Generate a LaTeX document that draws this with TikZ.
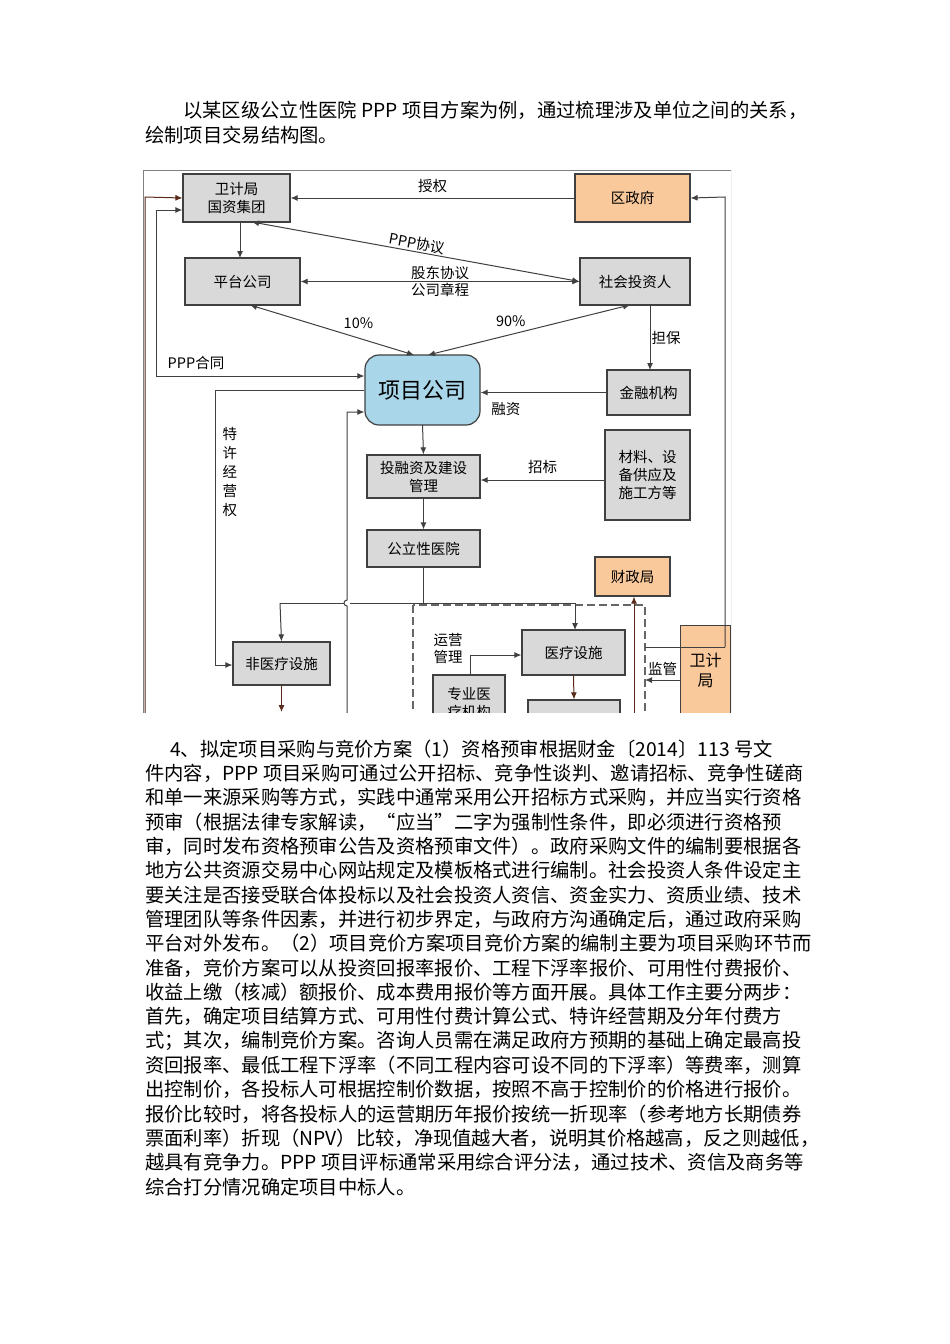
\documentclass[tikz,border=0pt]{standalone}
\usepackage{fontspec}
\setmainfont{Noto Sans CJK SC}
\usetikzlibrary{arrows.meta}
\definecolor{bx}{HTML}{D9D9D9}
\definecolor{org}{HTML}{F9C99B}
\definecolor{blu}{HTML}{A9D6E8}
\definecolor{brn}{HTML}{5A2A1A}
\tikzset{
 txt/.style={anchor=west,inner sep=0pt,font=\fontsize{19.3}{22}\selectfont},
 bx/.style={draw=black!75,line width=1.2pt,fill=bx,inner sep=0pt,font=\fontsize{14.5}{18}\selectfont,align=center},
 ob/.style={bx,fill=org},
 lb/.style={inner sep=1pt,font=\fontsize{14.5}{17}\selectfont,align=center},
 ln/.style={draw=black!75,line width=1pt},
 ar/.style={ln,-{Latex[length=7pt,width=6pt]}},
 dar/.style={ln,{Latex[length=7pt,width=6pt]}-{Latex[length=7pt,width=6pt]}},
}
\begin{document}
\begin{tikzpicture}[x=1pt,y=-1pt]
\useasboundingbox (0,0) rectangle (950,1344);
\fill[white] (0,0) rectangle (950,1344);
\node[txt] (p1) at (183,110) {以某区级公立性医院 PPP 项目方案为例，通过梳理涉及单位之间的关系，};
\node[txt] (p2) at (145,135) {绘制项目交易结构图。};
\begin{scope}
\clip (143,170) rectangle (731,712);
\draw[black!50,line width=0.8pt] (143,170) rectangle (731,760);
\node[bx,minimum width=107,minimum height=48] (wj) at (236.5,198) {卫计局\\国资集团};
\node[ob,minimum width=115,minimum height=48] (qzf) at (632.5,198) {区政府};
\node[bx,minimum width=115,minimum height=47] (pt) at (242.5,281.5) {平台公司};
\node[bx,minimum width=110,minimum height=47] (sh) at (635,281.5) {社会投资人};
\node[draw=black!75,line width=1.2pt,fill=blu,rounded corners=14pt,minimum width=115,minimum height=70,font=\fontsize{22}{24}\selectfont] (xm) at (422.5,390) {项目公司};
\node[bx,minimum width=83,minimum height=45] (jr) at (648.5,392.5) {金融机构};
\node[bx,minimum width=113,minimum height=43] (tr) at (423.5,476.5) {投融资及建设\\管理};
\node[bx,minimum width=85,minimum height=90] (cl) at (647.5,475) {材料、设\\备供应及\\施工方等};
\node[bx,minimum width=113,minimum height=37] (gl) at (423.5,548.5) {公立性医院};
\node[ob,minimum width=75,minimum height=39] (cz) at (632.5,576.5) {财政局};
\draw[dashed,black!60,line width=1.5pt,dash pattern=on 8pt off 4pt] (413,605) rectangle (645,740);
\node[bx,minimum width=103,minimum height=45] (yl) at (573.5,652.5) {医疗设施};
\node[bx,minimum width=97,minimum height=43] (fy) at (281.5,663.5) {非医疗设施};
\node[bx,minimum width=72,minimum height=55] (zy) at (469,702.5) {专业医\\疗机构};
\node[bx,minimum width=92,minimum height=40] (yb) at (574,720) {};
\node[ob,minimum width=50,minimum height=90,anchor=north west,font=\fontsize{16}{20}\selectfont] (wj2) at (680,625) {卫计\\局};
\coordinate (dbR) at (645,647);
\coordinate (dbR2) at (645,680);
\draw[ar] (qzf.west) -- node[lb,above=4pt] {授权} (wj.east);
\draw[ar] (725,647) -- (725,197) -- (qzf.east);
\draw[ln] (dbR) -- (725,647);
\draw[ln,-{Latex[length=7pt,width=6pt]},draw=brn] (145,760) -- (145,197) -- (wj.west);
\draw[ln,{Latex[length=7pt,width=6pt]}-{Latex[length=7pt,width=6pt]}] (wj.west|-0,210) -- (156,210) -- (156,376) -- (xm.west|-0,376);
\node[lb] (ppph) at (196,363) {PPP合同};
\draw[ar] (240,222) -- (240,258);
\draw[dar] (252,222) -- node[lb,above,sloped] {PPP协议} (sh.west);
\draw[dar] (pt.east) -- node[lb,above] {股东协议} node[lb,below] {公司章程} (sh.west|-0,281.5);
\draw[dar] (250,305) -- node[lb,above right=2pt,pos=0.55] {10\%} (414,355);
\draw[dar] (630,305) -- node[lb,above left=2pt,pos=0.5] {90\%} (428,355);
\draw[ar] (650,305) -- node[lb,right] {担保} (650,370);
\draw[ar] (jr.west) -- node[lb,below=8pt,pos=0.8] {融资} (xm.east|-0,392.5);
\draw[ar] (xm.west|-0,390) -- (215,390) -- node[lb,right=6pt,pos=0.3,font=\fontsize{14.5}{19}\selectfont] {特\\许\\经\\营\\权} (215,665) -- (fy.west|-0,665);
\draw[ar] (347,760) -- (347,606) arc[start angle=-90,end angle=90,radius=-3] -- (347,412) -- (xm.west|-0,412);
\draw[ar] (xm.south|-0,425) -- (tr.north);
\draw[ar] (cl.west|-0,480) -- node[lb,above=5pt] {招标} (tr.east|-0,480);
\draw[ar] (tr.south) -- (gl.north);
\draw[ln] (gl.south) -- (423.5,603);
\draw[ar] (280,603) -- (344,603) (350,603) -- (575,603) -- (575,630);
\draw[ar] (280,603) -- (fy.north);
\draw[ln,-{Latex[length=7pt,width=6pt]},draw=brn] (fy.south) -- (281.5,712);
\draw[ln,-{Latex[length=7pt,width=6pt]},draw=brn] (yl.south) -- (yb.north);
\draw[ar] (470,675) -- (470,655) -- (yl.west|-0,655);
\node[lb] (yy) at (448,648) {运营\\管理};
\draw[ar] (wj2.west|-0,680) -- node[lb,above=3pt] {监管} (dbR2);
\draw[ln,-{Latex[length=7pt,width=6pt]},draw=brn] (634,760) -- (cz.south-|634,0);
\end{scope}
\node[txt] (l1) at (170,749) {4、拟定项目采购与竞价方案（1）资格预审根据财金〔2014〕113 号文};
\node[txt] (l2) at (145,773) {件内容，PPP 项目采购可通过公开招标、竞争性谈判、邀请招标、竞争性磋商};
\node[txt] (l3) at (145,797) {和单一来源采购等方式，实践中通常采用公开招标方式采购，并应当实行资格};
\node[txt] (l4) at (145,822) {预审（根据法律专家解读，“应当”二字为强制性条件，即必须进行资格预};
\node[txt] (l5) at (145,846) {审，同时发布资格预审公告及资格预审文件）。政府采购文件的编制要根据各};
\node[txt] (l6) at (145,870) {地方公共资源交易中心网站规定及模板格式进行编制。社会投资人条件设定主};
\node[txt] (l7) at (145,895) {要关注是否接受联合体投标以及社会投资人资信、资金实力、资质业绩、技术};
\node[txt] (l8) at (145,919) {管理团队等条件因素，并进行初步界定，与政府方沟通确定后，通过政府采购};
\node[txt] (l9) at (145,943) {平台对外发布。（2）项目竞价方案项目竞价方案的编制主要为项目采购环节而};
\node[txt] (l10) at (145,968) {准备，竞价方案可以从投资回报率报价、工程下浮率报价、可用性付费报价、};
\node[txt] (l11) at (145,992) {收益上缴（核减）额报价、成本费用报价等方面开展。具体工作主要分两步：};
\node[txt] (l12) at (145,1016) {首先，确定项目结算方式、可用性付费计算公式、特许经营期及分年付费方};
\node[txt] (l13) at (145,1041) {式；其次，编制竞价方案。咨询人员需在满足政府方预期的基础上确定最高投};
\node[txt] (l14) at (145,1065) {资回报率、最低工程下浮率（不同工程内容可设不同的下浮率）等费率，测算};
\node[txt] (l15) at (145,1089) {出控制价，各投标人可根据控制价数据，按照不高于控制价的价格进行报价。};
\node[txt] (l16) at (145,1114) {报价比较时，将各投标人的运营期历年报价按统一折现率（参考地方长期债券};
\node[txt] (l17) at (145,1138) {票面利率）折现（NPV）比较，净现值越大者，说明其价格越高，反之则越低，};
\node[txt] (l18) at (145,1162) {越具有竞争力。PPP 项目评标通常采用综合评分法，通过技术、资信及商务等};
\node[txt] (l19) at (145,1187) {综合打分情况确定项目中标人。};
\end{tikzpicture}
\end{document}
